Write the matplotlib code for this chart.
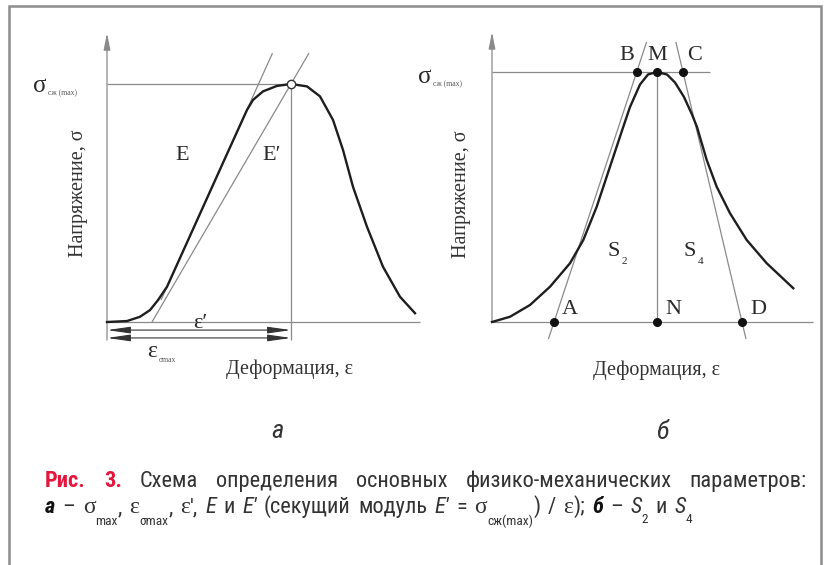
import matplotlib
matplotlib.use("Agg")
import matplotlib.pyplot as plt
from matplotlib import font_manager
from matplotlib.patches import FancyArrowPatch, Rectangle

W, H = 824, 565

# panel a: strain (arb. units) vs stress as a fraction of sigma_max
strain_a = [0.00, 0.20, 0.33, 0.43, 0.51, 0.60, 0.80, 1.00, 1.20, 1.40, 1.46, 1.56,
            1.70, 1.84, 2.00, 2.13, 2.26, 2.36, 2.46, 2.60, 2.76, 2.93, 3.08]
stress_a = [0.000, 0.004, 0.022, 0.050, 0.092, 0.148, 0.334, 0.520, 0.706, 0.891, 0.933, 0.969,
            0.992, 1.000, 0.990, 0.948, 0.849, 0.723, 0.568, 0.400, 0.232, 0.106, 0.037]
peak_a = (1.84, 1.0)
tangent_a = ([0.54, 1.655], [0.092, 1.13])     # modulus E
secant_a = ([0.45, 2.02], [0.0, 1.13])         # secant modulus E'

# panel b
strain_b = [0.00, 0.18, 0.38, 0.58, 0.78, 0.913, 1.047, 1.18, 1.313, 1.38, 1.48, 1.56,
            1.65, 1.75, 1.83, 1.92, 2.00, 2.05, 2.147, 2.247, 2.38, 2.547, 2.747, 3.013]
stress_b = [0.000, 0.021, 0.068, 0.141, 0.235, 0.328, 0.461, 0.621, 0.781, 0.860, 0.950, 0.990,
            1.000, 0.990, 0.958, 0.900, 0.830, 0.780, 0.648, 0.541, 0.435, 0.328, 0.235, 0.135]
tangent_left_b = ([0.564, 1.546], [-0.068, 1.12])
tangent_right_b = ([2.54, 1.839], [-0.068, 1.12])
point_names = ["A", "N", "D", "B", "M", "C"]
point_strain = [0.62, 1.65, 2.50, 1.45, 1.65, 1.91]
point_stress = [0.0, 0.0, 0.0, 1.0, 1.0, 1.0]

LINE = "#8a8a8a"
INK = "#2a2a2a"
serif = ["Liberation Serif", "DejaVu Serif"]

# narrowest sans available for the caption
installed = {f.name for f in font_manager.fontManager.ttflist}
narrow = [n for n in ["Liberation Sans Narrow", "Roboto Condensed", "Open Sans Condensed",
                      "Noto Sans Condensed", "Roboto"] if n in installed][:1]
cond = narrow + ["DejaVu Sans"]

fig = plt.figure(figsize=(W / 100, H / 100), dpi=100)
renderer = fig.canvas.get_renderer()


def panel(x0, y0, px_strain, px_stress):
    # full-figure axes whose data origin sits at pixel (x0, y0)
    ax = fig.add_axes([0, 0, 1, 1])
    ax.set_xlim(-x0 / px_strain, (W - x0) / px_strain)
    ax.set_ylim(-(H - y0) / px_stress, y0 / px_stress)
    ax.axis("off")
    ax.patch.set_alpha(0)
    return ax


def thin(ax, xs, ys):
    ax.plot(xs, ys, color=LINE, lw=0.9, solid_capstyle="butt", clip_on=False)


def arrow(ax, p0, p1, style):
    ax.add_patch(FancyArrowPatch(p0, p1, arrowstyle=style, mutation_scale=10,
                                 color=LINE, lw=0.9, shrinkA=0, shrinkB=0,
                                 clip_on=False))


def sigma_label(ax, x, y):
    ax.text(x, y, "σ", family=serif, fontsize=18, color=INK, ha="center", va="center")
    ax.text(x + 0.08, y - 0.03, "сж (max)", family=serif, fontsize=5.5, color="#555",
            ha="left", va="center")


# ---- panel a
ax = panel(107, 322, 100, 238)
arrow(ax, (0, -0.076), (0, 1.214), "-|>,head_length=1.0,head_width=0.2")
thin(ax, [0, 3.13], [0, 0])
thin(ax, [0, peak_a[0]], [1, 1])
thin(ax, [peak_a[0], peak_a[0]], [1, -0.076])
thin(ax, *tangent_a)
thin(ax, *secant_a)
for y in (-0.034, -0.067):
    ax.add_patch(FancyArrowPatch((0, y), (peak_a[0], y),
                                 arrowstyle="<|-|>,head_length=1.4,head_width=0.2",
                                 mutation_scale=10, color="#333", lw=0.8,
                                 shrinkA=0, shrinkB=0, clip_on=False))
ax.plot(strain_a, stress_a, color="#1e1e1e", lw=1.7, solid_joinstyle="round")
ax.plot(*peak_a, "o", ms=6, mfc="white", mec="#333", mew=1.0)
ax.text(0.75, 0.70, "E", family=serif, fontsize=16, color=INK, ha="center", va="center")
ax.text(1.65, 0.70, "E′", family=serif, fontsize=16, color=INK, ha="center", va="center")
ax.text(0.93, -0.008, "ε′", family=serif, fontsize=16, color=INK, ha="center", va="center")
ax.text(0.45, -0.126, "ε", family=serif, fontsize=17, color=INK, ha="center", va="center")
ax.text(0.52, -0.16, "σmax", family=serif, fontsize=5.5, color="#555", ha="left", va="center")
sigma_label(ax, -0.67, 0.99)
ax.text(-0.29, 0.54, "Напряжение, σ", family=serif, fontsize=14.5, color="#333",
        rotation=90, ha="center", va="center")
ax.text(1.83, -0.20, "Деформация, ε", family=serif, fontsize=14.5, color="#333",
        ha="center", va="center")
ax.text(1.70, -0.46, "а", family=cond, style="italic", fontsize=19, color="#333",
        ha="center", va="center")

# ---- panel b
bx = panel(492, 322, 100, 250)
arrow(bx, (0, 0), (0, 1.16), "-|>,head_length=1.0,head_width=0.2")
thin(bx, [0, 3.21], [0, 0])
thin(bx, [0, 2.18], [1, 1])
thin(bx, [1.65, 1.65], [0, 1])
thin(bx, *tangent_left_b)
thin(bx, *tangent_right_b)
bx.plot(strain_b, stress_b, color="#1e1e1e", lw=1.7, solid_joinstyle="round")
bx.plot(point_strain, point_stress, "o", ms=5.5, color="#111", ls="none")
for name, x, y in zip(point_names, point_strain, point_stress):
    if y > 0.5:
        dx = {"B": -0.10, "M": 0.0, "C": 0.12}[name]
        bx.text(x + dx, 1.068, name, family=serif, fontsize=16, color=INK,
                ha="center", va="center")
    else:
        bx.text(x + 0.16, 0.05, name, family=serif, fontsize=16, color=INK,
                ha="center", va="center")
for x, sub in ((1.22, "2"), (1.98, "4")):
    bx.text(x, 0.28, "S", family=serif, fontsize=16, color=INK, ha="center", va="center")
    bx.text(x + 0.08, 0.24, sub, family=serif, fontsize=8, color=INK, ha="left", va="center")
sigma_label(bx, -0.67, 0.98)
bx.text(-0.30, 0.51, "Напряжение, σ", family=serif, fontsize=14.5, color="#333",
        rotation=90, ha="center", va="center")
bx.text(1.65, -0.192, "Деформация, ε", family=serif, fontsize=14.5, color="#333",
        ha="center", va="center")
bx.text(1.70, -0.44, "б", family=cond, style="italic", fontsize=19, color="#333",
        ha="center", va="center")

# ---- frame
fig.add_artist(Rectangle((9 / W, -0.1), 812 / W, 1.1 - 6 / H, transform=fig.transFigure,
                         fill=False, ec="#8c8c8c", lw=1.8))


# ---- caption
def width(s, **kw):
    t1 = fig.text(0, 0, "|" + s + "|", **kw)
    t2 = fig.text(0, 0, "||", **kw)
    w = t1.get_window_extent(renderer).width - t2.get_window_extent(renderer).width
    t1.remove()
    t2.remove()
    return w


def put(x, y, s, **kw):
    fig.text(x / W, 1 - y / H, s, va="baseline", ha="left", **kw)


line1 = ["Рис.", "3.", "Схема", "определения", "основных", "физико-механических",
         "параметров:"]
left, right = 45, 807

# pick the caption size so the justified first line keeps ~18 px word gaps
size = 16.5
natural = sum(width(w, family=cond, fontsize=size) for w in line1)
room = right - left - 18.5 * (len(line1) - 1)
size = min(20.0, size * room / natural)

CAP = dict(family=cond, fontsize=size, color="#333")
RED = dict(family=cond, fontsize=size, color="#e3173e", weight="bold")
words = [(w, RED if i < 2 else CAP) for i, w in enumerate(line1)]
total = sum(width(w, **kw) for w, kw in words)
gap = (right - left - total) / (len(words) - 1)
x = left
for w, kw in words:
    put(x, 487, w, **kw)
    x += width(w, **kw) + gap

SUB = dict(family=cond, fontsize=size * 0.6, color="#333")
GRK = dict(family=serif, fontsize=size * 1.05, color="#333")
ITA = dict(family=cond, fontsize=size, color="#333", style="italic")
BIT = dict(family=cond, fontsize=size, color="#111", style="italic", weight="bold")
runs = [("а", BIT, 0), (" – ", CAP, 0), ("σ", GRK, 0), ("max", SUB, 12), (", ", CAP, 0),
        ("ε", GRK, 0), ("σmax", SUB, 12), (", ", CAP, 0), ("ε", GRK, 0), ("', ", CAP, 0),
        ("E", ITA, 0), (" и ", CAP, 0), ("E'", ITA, 0), (" (секущий модуль ", CAP, 0),
        ("E'", ITA, 0), (" = ", CAP, 0), ("σ", GRK, 0), ("сж(max)", SUB, 12),
        (") / ", CAP, 0), ("ε", GRK, 0), ("); ", CAP, 0), ("б", BIT, 0), (" – ", CAP, 0),
        ("S", ITA, 0), ("2", SUB, 10), (" и ", CAP, 0), ("S", ITA, 0), ("4", SUB, 10)]

# second line runs a little looser: spread the spare width over its spaces
line2_end = 692
natural2 = sum(width(s, **kw) for s, kw, _ in runs)
n_spaces = sum(s.count(" ") for s, _, _ in runs)
extra = max(0.0, (line2_end - left - natural2) / n_spaces)
x = left
for s, kw, dy in runs:
    # draw word by word so every space gets the same extra width
    for i, part in enumerate(s.split(" ")):
        if i > 0:
            x += width(" ", **kw) + extra
        if part:
            put(x, 513 + dy, part, **kw)
            x += width(part, **kw)

fig.savefig("out.png", dpi=100)
